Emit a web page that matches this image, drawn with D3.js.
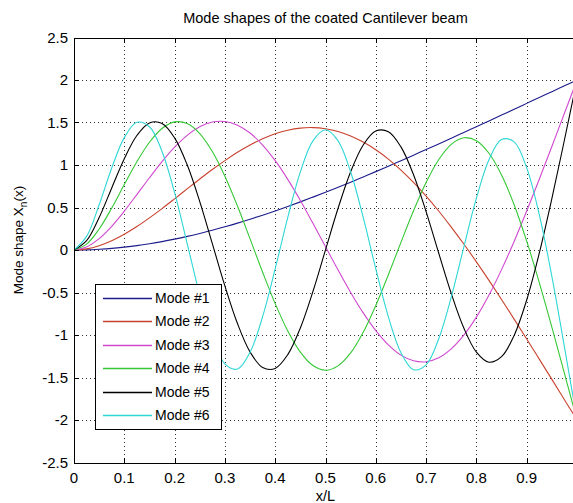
<!DOCTYPE html>
<html>
<head>
<meta charset="utf-8">
<script src="https://cdn.jsdelivr.net/npm/d3@7/dist/d3.min.js"></script>
<style>
  body { margin: 0; background: #fff; }
  text { font-family: "Liberation Sans", Arial, sans-serif; fill: #000; }
</style>
</head>
<body>
<div id="chart"></div>
<script>
// x/L sample positions
var xPos = [0, 0.025, 0.05, 0.075, 0.1, 0.125, 0.15, 0.175, 0.2, 0.225, 0.25, 0.275, 0.3, 0.325, 0.35, 0.375,
  0.4, 0.425, 0.45, 0.475, 0.5, 0.525, 0.55, 0.575, 0.6, 0.625, 0.65, 0.675, 0.7, 0.725, 0.75, 0.775,
  0.8, 0.825, 0.85, 0.875, 0.9, 0.925, 0.95, 0.975, 1];

// mode shapes
var mode1 = [0, 0.002, 0.009, 0.019, 0.034, 0.052, 0.074, 0.099, 0.128, 0.160, 0.195, 0.232, 0.273, 0.316, 0.362, 0.410,
  0.460, 0.512, 0.566, 0.622, 0.679, 0.738, 0.798, 0.860, 0.922, 0.986, 1.050, 1.116, 1.182, 1.248, 1.315, 1.383,
  1.451, 1.519, 1.588, 1.656, 1.725, 1.794, 1.862, 1.931, 2.000];
var mode2 = [0, 0.013, 0.051, 0.109, 0.185, 0.276, 0.378, 0.487, 0.602, 0.719, 0.835, 0.947, 1.052, 1.149, 1.235, 1.308,
  1.367, 1.409, 1.434, 1.440, 1.427, 1.395, 1.342, 1.270, 1.179, 1.069, 0.940, 0.795, 0.634, 0.459, 0.270, 0.070,
  -0.140, -0.358, -0.583, -0.813, -1.047, -1.284, -1.522, -1.761, -2.000];
var mode3 = [0, 0.036, 0.134, 0.279, 0.457, 0.652, 0.850, 1.040, 1.210, 1.349, 1.449, 1.505, 1.512, 1.469, 1.376, 1.235,
  1.051, 0.831, 0.583, 0.315, 0.039, -0.236, -0.499, -0.740, -0.948, -1.116, -1.237, -1.304, -1.315, -1.268, -1.163, -1.002,
  -0.790, -0.530, -0.231, 0.101, 0.458, 0.832, 1.218, 1.609, 2.000];
var mode4 = [0, 0.069, 0.247, 0.494, 0.770, 1.039, 1.268, 1.430, 1.507, 1.488, 1.370, 1.159, 0.868, 0.517, 0.131, -0.261,
  -0.631, -0.952, -1.201, -1.359, -1.414, -1.363, -1.211, -0.968, -0.653, -0.291, 0.090, 0.462, 0.795, 1.062, 1.243, 1.320,
  1.286, 1.138, 0.883, 0.533, 0.104, -0.383, -0.907, -1.451, -2.000];
var mode5 = [0, 0.110, 0.382, 0.730, 1.074, 1.347, 1.495, 1.489, 1.319, 1.002, 0.570, 0.076, -0.423, -0.865, -1.199, -1.382,
  -1.393, -1.231, -0.917, -0.488, 0.002, 0.491, 0.921, 1.236, 1.400, 1.392, 1.213, 0.886, 0.451, -0.035, -0.512, -0.918,
  -1.201, -1.320, -1.255, -1.005, -0.588, -0.038, 0.604, 1.294, 2.000];
var mode6 = [0, 0.160, 0.532, 0.965, 1.322, 1.502, 1.450, 1.159, 0.674, 0.076, -0.528, -1.030, -1.339, -1.401, -1.203, -0.784,
  -0.220, 0.384, 0.919, 1.284, 1.414, 1.284, 0.918, 0.383, -0.222, -0.787, -1.208, -1.408, -1.351, -1.047, -0.555, 0.035,
  0.610, 1.062, 1.300, 1.272, 0.966, 0.417, -0.311, -1.139, -2.000];

var modeNames = ["Mode #1", "Mode #2", "Mode #3", "Mode #4", "Mode #5", "Mode #6"];
var modeColors = ["#1c1c8c", "#c8412d", "#d048d0", "#35c835", "#000000", "#2ed6d6"];

var xTicks = [0, 0.1, 0.2, 0.3, 0.4, 0.5, 0.6, 0.7, 0.8, 0.9, 1];
var xTickLabels = ["0", "0.1", "0.2", "0.3", "0.4", "0.5", "0.6", "0.7", "0.8", "0.9"];
var yTicks = [-2.5, -2, -1.5, -1, -0.5, 0, 0.5, 1, 1.5, 2, 2.5];

var width = 573,
  height = 503;

var series = [mode1, mode2, mode3, mode4, mode5, mode6].map(function(vals, i) {
  return {
    name: modeNames[i],
    color: modeColors[i],
    values: xPos.map(function(xv, j) { return [xv, vals[j]]; })
  };
});

var xScale = d3.scaleLinear()
  .domain([0, 1])
  .range([74, 577]);

var yScale = d3.scaleLinear()
  .domain([-2.5, 2.5])
  .range([462.5, 37.5]);

var svg = d3.select("#chart")
  .append("svg")
  .attr("width", width)
  .attr("height", height);

svg.append("rect")
  .attr("width", width)
  .attr("height", height)
  .attr("fill", "#fff");

svg.append("defs").append("clipPath")
  .attr("id", "plotclip")
  .append("rect")
  .attr("x", xScale(0))
  .attr("y", yScale(2.5))
  .attr("width", xScale(1) - xScale(0))
  .attr("height", yScale(-2.5) - yScale(2.5));

// dotted grid
var grid = svg.append("g").attr("shape-rendering", "crispEdges");

grid.selectAll(".vgrid")
  .data(xTicks.slice(1, -1))
  .enter().append("line")
  .attr("x1", function(d) { return Math.round(xScale(d)) + 0.5; })
  .attr("x2", function(d) { return Math.round(xScale(d)) + 0.5; })
  .attr("y1", yScale(2.5))
  .attr("y2", yScale(-2.5))
  .attr("stroke", "#333")
  .attr("stroke-dasharray", "1,3");

grid.selectAll(".hgrid")
  .data(yTicks.slice(1, -1))
  .enter().append("line")
  .attr("x1", xScale(0))
  .attr("x2", xScale(1))
  .attr("y1", function(d) { return Math.round(yScale(d)) + 0.5; })
  .attr("y2", function(d) { return Math.round(yScale(d)) + 0.5; })
  .attr("stroke", "#333")
  .attr("stroke-dasharray", "1,3");

// curves
var line = d3.line()
  .x(function(d) { return xScale(d[0]); })
  .y(function(d) { return yScale(d[1]); })
  .curve(d3.curveCatmullRom.alpha(0.5));

svg.append("g")
  .attr("clip-path", "url(#plotclip)")
  .selectAll("path")
  .data(series)
  .enter().append("path")
  .attr("d", function(d) { return line(d.values); })
  .attr("fill", "none")
  .attr("stroke", function(d) { return d.color; })
  .attr("stroke-width", 1.1);

// axes box with inward ticks
var axes = svg.append("g").attr("shape-rendering", "crispEdges");

axes.append("rect")
  .attr("x", xScale(0) + 0.5)
  .attr("y", yScale(2.5) + 0.5)
  .attr("width", xScale(1) - xScale(0))
  .attr("height", yScale(-2.5) - yScale(2.5))
  .attr("fill", "none")
  .attr("stroke", "#000");

axes.selectAll(".xtickb")
  .data(xTicks)
  .enter().append("line")
  .attr("x1", function(d) { return Math.round(xScale(d)) + 0.5; })
  .attr("x2", function(d) { return Math.round(xScale(d)) + 0.5; })
  .attr("y1", yScale(-2.5))
  .attr("y2", yScale(-2.5) - 5)
  .attr("stroke", "#000");

axes.selectAll(".xtickt")
  .data(xTicks)
  .enter().append("line")
  .attr("x1", function(d) { return Math.round(xScale(d)) + 0.5; })
  .attr("x2", function(d) { return Math.round(xScale(d)) + 0.5; })
  .attr("y1", yScale(2.5))
  .attr("y2", yScale(2.5) + 5)
  .attr("stroke", "#000");

axes.selectAll(".ytick")
  .data(yTicks)
  .enter().append("line")
  .attr("x1", xScale(0))
  .attr("x2", xScale(0) + 5)
  .attr("y1", function(d) { return Math.round(yScale(d)) + 0.5; })
  .attr("y2", function(d) { return Math.round(yScale(d)) + 0.5; })
  .attr("stroke", "#000");

// tick labels (the 1 label falls outside the window, as in the original)
svg.selectAll(".xlabel")
  .data(xTickLabels)
  .enter().append("text")
  .attr("x", function(d, i) { return xScale(xTicks[i]); })
  .attr("y", 483)
  .attr("text-anchor", "middle")
  .attr("font-size", "15px")
  .attr("fill", "#222")
  .text(function(d) { return d; });

svg.selectAll(".ylabel")
  .data(yTicks)
  .enter().append("text")
  .attr("x", 68)
  .attr("y", function(d) { return yScale(d); })
  .attr("dy", "0.35em")
  .attr("text-anchor", "end")
  .attr("font-size", "15px")
  .attr("fill", "#222")
  .text(function(d) { return String(d); });

// title and axis labels
svg.append("text")
  .attr("x", (xScale(0) + xScale(1)) / 2)
  .attr("y", 23)
  .attr("text-anchor", "middle")
  .attr("font-size", "14.5px")
  .text("Mode shapes of the coated Cantilever beam");

svg.append("text")
  .attr("x", (xScale(0) + xScale(1)) / 2)
  .attr("y", 501)
  .attr("text-anchor", "middle")
  .attr("font-size", "14.5px")
  .text("x/L");

var ylab = svg.append("text")
  .attr("transform", "translate(23,240) rotate(-90)")
  .attr("text-anchor", "middle")
  .attr("font-size", "13.5px");
ylab.append("tspan").text("Mode shape X");
ylab.append("tspan").attr("font-size", "10px").attr("dy", 4).text("n");
ylab.append("tspan").attr("dy", -4).text("(x)");

// legend
var legend = svg.append("g");

legend.append("rect")
  .attr("x", 95.5)
  .attr("y", 284.5)
  .attr("width", 126)
  .attr("height", 145)
  .attr("fill", "#fff")
  .attr("stroke", "#000")
  .attr("shape-rendering", "crispEdges");

var item = legend.selectAll(".item")
  .data(series)
  .enter().append("g")
  .attr("transform", function(d, i) { return "translate(0," + Math.round(298 + i * 23.4) + ")"; });

item.append("line")
  .attr("x1", 103)
  .attr("x2", 152)
  .attr("y1", 0.5)
  .attr("y2", 0.5)
  .attr("stroke", function(d) { return d.color; })
  .attr("stroke-width", 1.5);

item.append("text")
  .attr("x", 155)
  .attr("y", 0)
  .attr("dy", "0.36em")
  .attr("font-size", "14px")
  .text(function(d) { return d.name; });
</script>
</body>
</html>
